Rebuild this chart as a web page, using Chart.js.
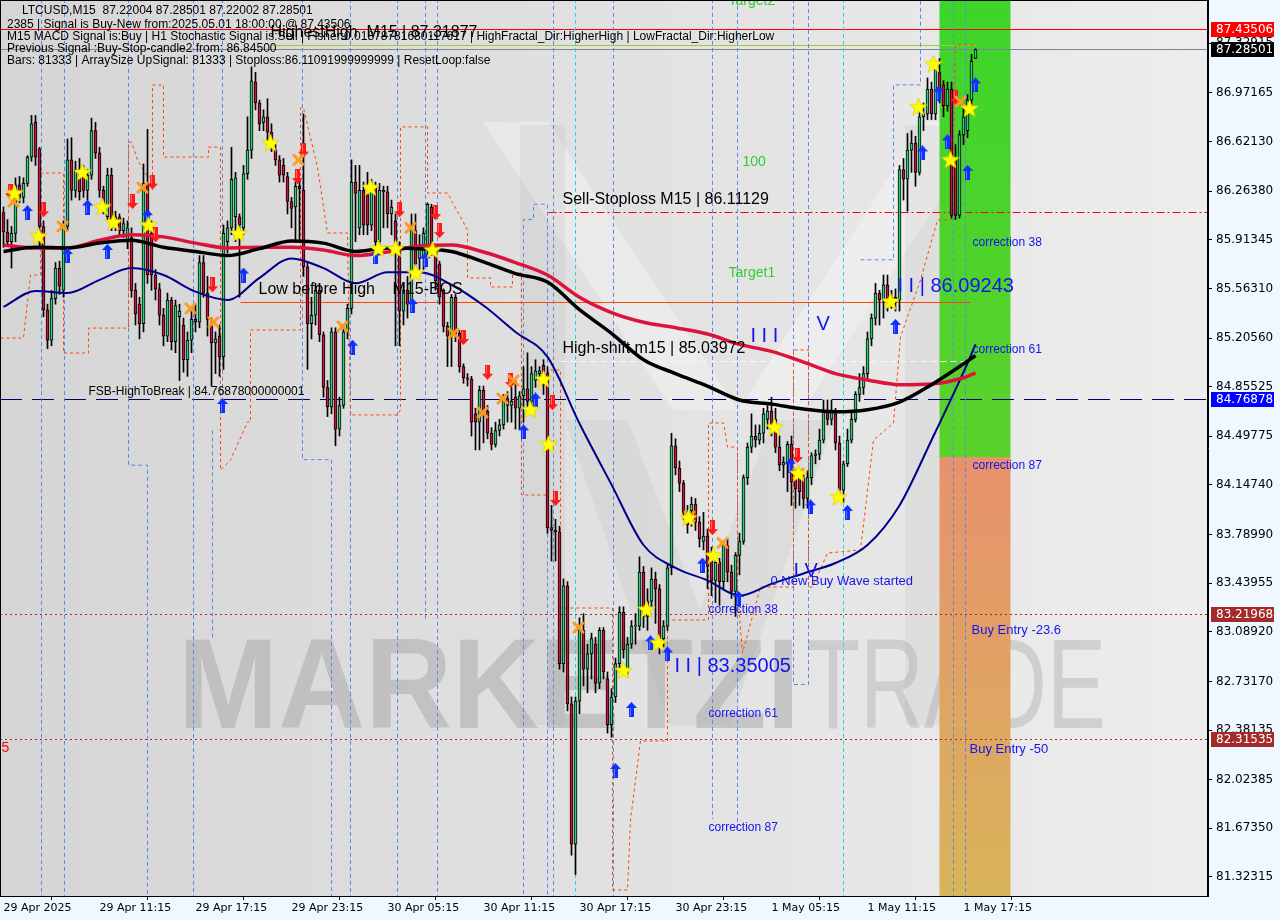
<!DOCTYPE html>
<html><head><meta charset="utf-8">
<script src="https://cdn.jsdelivr.net/npm/chart.js@4.4.1/dist/chart.umd.min.js"></script>
<style>html,body{margin:0;padding:0;background:#f0f8ff;}canvas{display:block;}</style>
</head><body>
<canvas id="c" width="1280" height="920"></canvas>
<script>
// ---------- DATA ----------
const xTickIdx = [0,24,48,72,96,120,144,168,192,216,240];
const xTickLabels = ['29 Apr 2025','29 Apr 11:15','29 Apr 17:15','29 Apr 23:15','30 Apr 05:15','30 Apr 11:15','30 Apr 17:15','30 Apr 23:15','1 May 05:15','1 May 11:15','1 May 17:15'];
const yTickValues = [87.32915,86.97165,86.62130,86.26380,85.91345,85.56310,85.20560,84.85525,84.49775,84.14740,83.78990,83.43955,83.08920,82.73170,82.38135,82.02385,81.67350,81.32315];

const opens = [86.11,85.97,85.90,85.96,86.31,86.22,86.32,86.51,86.76,86.57,
86.01,85.41,85.19,85.49,85.71,85.55,86.01,86.49,86.27,86.42,
86.39,86.27,86.38,86.70,86.54,86.27,86.08,86.38,86.03,86.08,
85.98,85.90,85.93,85.55,85.45,85.31,86.32,85.96,85.66,85.56,
85.37,85.22,85.48,85.18,85.36,85.30,85.05,85.19,85.34,85.32,
85.75,85.53,85.29,85.17,85.22,85.07,85.90,86.00,86.08,86.08,
86.00,86.39,86.56,87.05,86.90,86.76,86.80,86.69,86.56,86.49,
86.45,86.37,86.19,86.15,86.30,86.27,85.72,85.31,85.37,85.55,
85.23,84.85,84.71,85.25,84.55,84.72,85.25,85.42,86.33,86.00,
86.27,86.24,86.02,86.30,85.90,86.27,86.26,86.10,86.05,85.84,
85.40,85.55,85.45,85.98,85.78,85.78,85.86,86.15,85.86,85.74,
85.55,85.29,85.22,85.50,85.24,85.00,84.92,84.91,84.66,84.60,
84.83,84.68,84.52,84.44,84.54,84.58,84.77,84.72,84.78,84.70,
84.79,84.84,84.75,84.90,84.95,85.01,84.95,83.84,83.82,83.81,
82.86,83.42,82.57,81.56,82.59,83.10,82.82,82.93,83.00,82.72,
83.10,82.75,82.42,82.62,82.86,83.23,82.82,83.00,83.13,83.13,
83.52,83.20,83.31,83.47,83.40,83.04,83.13,83.55,84.43,84.27,
84.16,83.95,83.96,84.01,83.88,83.74,83.78,83.65,83.46,83.59,
83.45,83.71,83.52,83.38,83.64,83.74,84.20,84.42,84.50,84.47,
84.52,84.62,84.68,84.62,84.42,84.29,84.30,84.44,84.20,84.20,
84.20,84.05,84.20,84.36,84.37,84.47,84.68,84.62,84.66,84.45,
84.11,84.30,84.47,84.62,84.80,84.85,84.95,85.20,85.35,85.53,
85.48,85.59,85.48,85.50,85.48,86.42,86.35,86.56,86.61,86.40,
86.80,86.82,87.00,86.82,87.12,87.03,86.88,87.00,86.49,86.09,
86.67,86.70,86.92,87.22];
const highs = [86.15,86.06,86.01,86.36,86.37,86.36,86.52,86.81,86.81,86.58,
86.05,85.45,85.55,85.75,85.76,86.05,86.64,86.65,86.48,86.50,
86.45,86.42,86.79,86.76,86.58,86.30,86.43,86.43,86.12,86.10,
86.07,86.05,86.00,85.60,85.50,86.46,86.71,86.05,85.70,85.60,
85.42,85.53,85.50,85.48,85.45,85.35,85.25,85.42,85.45,85.80,
85.80,85.65,85.35,85.25,85.30,86.02,86.05,86.58,86.40,86.10,
86.45,86.80,87.16,87.12,86.92,86.85,86.93,86.75,86.60,86.52,
86.50,86.40,86.22,86.33,86.35,86.82,85.75,85.50,85.60,85.60,
85.25,84.90,85.28,85.28,84.78,85.30,85.45,86.49,86.45,86.45,
86.33,86.40,86.35,86.33,86.32,86.30,86.30,86.20,86.10,85.90,
85.60,85.65,86.10,86.10,85.95,86.00,86.18,86.17,85.88,85.76,
85.56,85.32,85.52,85.52,85.26,85.02,84.95,84.93,84.70,84.86,
84.86,84.72,84.56,84.60,84.62,84.80,84.82,84.85,84.90,84.82,
85.00,85.10,85.00,85.05,85.00,85.05,85.00,84.00,83.90,83.85,
83.47,83.45,82.62,82.62,83.19,83.22,83.00,83.08,83.05,83.12,
83.12,82.80,82.68,82.90,83.27,83.27,83.05,83.17,83.22,83.63,
83.56,83.40,83.55,83.52,83.43,83.17,83.57,84.52,84.48,84.32,
84.18,84.00,84.06,84.05,83.92,83.95,83.83,83.70,83.65,83.62,
83.74,83.76,83.57,83.66,83.80,84.22,84.45,84.66,84.58,84.58,
84.70,84.72,84.78,84.70,84.50,84.35,84.46,84.50,84.25,84.22,
84.22,84.25,84.38,84.40,84.55,84.76,84.76,84.76,84.70,84.50,
84.32,84.55,84.68,84.82,84.95,85.00,85.25,85.38,85.60,85.55,
85.66,85.66,85.55,85.56,86.45,86.50,86.68,86.70,86.66,86.86,
86.90,87.08,87.05,87.20,87.22,87.06,87.05,87.05,86.60,86.70,
86.90,86.96,87.25,87.29];
const lows = [85.86,85.87,85.71,85.90,86.18,86.18,86.30,86.48,86.45,85.87,
85.36,85.13,85.15,85.45,85.52,85.50,85.98,86.20,86.22,86.20,
86.22,86.20,86.35,86.50,86.22,86.10,86.05,85.98,85.98,85.95,
85.93,85.85,85.50,85.30,85.20,85.25,85.60,85.55,85.48,85.30,
85.15,85.18,85.12,85.10,84.90,84.96,84.93,85.10,85.25,85.28,
85.50,85.22,84.86,84.95,84.93,84.98,85.82,85.95,85.90,85.50,
85.95,86.35,86.50,86.85,86.70,86.70,86.60,86.55,86.45,86.33,
86.33,86.10,86.00,85.90,85.90,85.65,84.98,85.20,85.30,85.18,
84.78,84.64,84.66,84.43,84.50,84.70,85.20,85.38,85.90,85.95,
85.95,85.95,85.98,85.85,85.85,86.00,86.00,85.95,85.15,85.15,
85.30,85.35,85.40,85.70,85.70,85.70,85.80,85.80,85.55,85.45,
85.25,85.00,85.00,85.18,84.96,84.88,84.86,84.50,84.40,84.40,
84.45,84.48,84.40,84.42,84.50,84.55,84.60,84.60,84.55,84.55,
84.60,84.70,84.70,84.85,84.90,84.80,83.80,83.60,83.60,82.82,
82.80,82.52,81.48,81.34,82.50,82.70,82.65,82.75,82.65,82.68,
82.75,82.36,82.33,82.58,82.80,82.90,82.78,82.97,83.00,83.10,
83.12,83.10,83.25,83.15,82.93,82.98,83.10,83.50,84.22,84.10,
83.90,83.80,83.85,83.82,83.70,83.68,83.40,83.35,83.30,83.28,
83.40,83.45,83.33,83.20,83.50,83.72,84.15,84.38,84.42,84.44,
84.45,84.55,84.50,84.38,84.25,84.20,84.10,84.00,83.98,84.00,
83.98,83.98,84.15,84.30,84.33,84.45,84.58,84.58,84.40,84.06,
84.02,84.28,84.45,84.60,84.75,84.80,84.90,85.15,85.30,85.30,
85.35,85.40,85.42,85.40,85.40,86.20,86.12,86.40,86.30,86.38,
86.70,86.78,86.78,86.78,86.90,86.80,86.84,86.07,86.06,86.07,
86.60,86.65,86.88,87.22];
const closes = [85.97,85.90,85.96,86.31,86.22,86.32,86.51,86.75,86.51,86.01,
85.41,85.19,85.49,85.71,85.58,86.01,86.49,86.27,86.42,86.26,
86.27,86.38,86.70,86.54,86.27,86.15,86.38,86.03,86.08,85.98,
86.03,86.00,85.55,85.38,85.31,86.32,85.66,85.66,85.56,85.37,
85.22,85.48,85.18,85.44,85.40,85.05,85.19,85.34,85.32,85.75,
85.53,85.34,85.17,85.20,85.07,85.96,86.00,86.35,86.36,86.02,
86.39,86.56,87.06,86.90,86.75,86.80,86.69,86.63,86.49,86.38,
86.38,86.19,86.14,86.30,86.28,85.72,85.31,85.37,85.55,85.23,
84.85,84.71,85.25,84.55,84.72,85.25,85.42,86.33,86.25,86.27,
86.02,86.02,86.30,85.90,86.27,86.26,86.10,86.15,85.84,85.40,
85.55,85.45,85.98,85.74,85.86,85.96,86.17,85.86,85.62,85.50,
85.29,85.22,85.50,85.24,85.00,84.92,84.91,84.60,84.60,84.83,
84.68,84.52,84.44,84.54,84.58,84.77,84.72,84.75,84.70,84.79,
84.84,84.75,84.95,84.97,84.97,84.87,83.84,83.82,83.81,82.86,
83.42,82.57,81.56,82.59,83.10,82.82,82.93,83.04,82.72,83.10,
82.80,82.42,82.62,82.86,83.23,82.96,83.00,83.13,83.13,83.52,
83.20,83.31,83.47,83.40,83.04,83.13,83.55,84.43,84.27,84.16,
83.95,83.86,84.01,83.88,83.76,83.78,83.56,83.46,83.59,83.45,
83.71,83.52,83.38,83.64,83.74,84.20,84.42,84.50,84.47,84.52,
84.66,84.68,84.55,84.42,84.29,84.31,84.44,84.17,84.12,84.10,
84.05,84.20,84.36,84.37,84.47,84.67,84.62,84.68,84.45,84.11,
84.30,84.47,84.62,84.80,84.85,84.95,85.20,85.35,85.53,85.48,
85.59,85.48,85.50,85.48,86.42,86.35,86.56,86.61,86.40,86.80,
86.82,87.00,86.82,87.14,86.96,86.88,87.00,86.09,86.09,86.67,
86.80,86.92,87.20,87.285];

const maIdx = [0,8,16,24,32,40,48,56,64,72,80,88,96,104,112,120,128,136,144,152,160,168,176,184,192,200,208,216,224,232,240,243];
const maBlack = [85.83,85.86,85.855,85.89,85.91,85.86,85.83,85.80,85.85,85.905,85.89,85.83,85.855,85.85,85.83,85.755,85.67,85.61,85.41,85.24,85.05,84.95,84.86,84.76,84.73,84.695,84.675,84.69,84.745,84.87,85.02,85.08];
const maRed = [85.876,85.855,85.855,85.91,85.95,85.935,85.89,85.855,85.86,85.86,85.84,85.80,85.826,85.87,85.876,85.826,85.75,85.66,85.50,85.39,85.32,85.28,85.235,85.16,85.11,85.033,84.95,84.904,84.87,84.875,84.92,84.955];
const maNavy = [85.43,85.545,85.53,85.625,85.71,85.66,85.54,85.48,85.64,85.78,85.71,85.60,85.68,85.68,85.59,85.44,85.25,85.07,84.59,84.15,83.715,83.55,83.46,83.35,83.435,83.51,83.585,83.715,84.00,84.47,84.96,85.16];

// trailing stop line (orange dashed), vertices
const orangeX = [-0.75,5,6.75,9.25,9.25,15,15,21.25,21.25,31.25,31.25,32,33.5,36,37.25,37.25,40,40,51.25,51.25,54.25,54.25,56.75,61,61.75,61.75,74.25,74.25,75,78.5,81,86,86.75,98.5,99.25,99.25,106,106,111,116,116,121.75,121.75,127.25,127.25,129.5,129.5,136.25,136.25,139.25,139.25,152.25,152.25,156,156.75,159.25,166,166,176.25,176.25,180,181,183.5,183.5,184.75,189.25,197.5,197.5,201.25,201.25,202.25,206,214.25,217.5,222.5,224.25,229.25,233.5,237.25,238,243];
const orangeY = [85.206,85.206,85.660,85.660,86.395,86.395,85.098,85.098,85.278,85.278,86.618,86.618,86.489,86.366,86.366,87.029,87.029,86.510,86.510,86.582,86.582,84.255,84.327,84.601,84.601,85.264,85.264,86.863,86.863,86.438,85.963,85.963,84.652,84.652,84.688,86.727,86.727,86.251,86.251,85.985,85.639,85.639,85.574,85.574,85.675,85.675,84.075,84.075,84.976,84.976,83.261,83.261,81.229,81.229,81.734,82.303,82.303,83.175,83.175,84.594,84.594,84.421,84.421,83.369,82.937,83.412,83.412,85.120,85.120,83.412,83.412,83.657,83.679,84.471,84.594,85.214,85.624,86.057,86.057,87.317,87.317];

const bluePaths = [
 [[9.5,87.7],[9.5,81.1]], [[15.25,87.7],[15.25,81.1]],
 [[31.25,87.7],[31.25,84.29],[36,84.29],[36,81.1]], [[47.5,87.7],[47.5,81.1]],
 [[52.25,84.54],[52.25,83.03]], [[54.75,87.7],[54.75,84.76]],
 [[74.75,87.7],[74.75,84.33],[82,84.33],[82,81.1]], [[86.75,87.7],[86.75,81.1]],
 [[98.5,87.7],[98.5,81.1]], [[105.5,87.7],[105.5,83.17]], [[108.5,87.7],[108.5,81.1]],
 [[130,81.1],[130,86.06],[132.5,86.06],[132.5,86.17],[136,86.17],[136,81.1]],
 [[137.5,87.7],[137.5,81.1]], [[152.5,87.7],[152.5,81.1]],
 [[177.25,87.7],[177.25,81.74]], [[183.5,87.7],[183.5,81.66]],
 [[197.5,87.7],[197.5,82.71],[201.25,82.71],[201.25,87.7]],
 [[214.25,85.77],[222.5,85.77],[222.5,87.03],[229.25,87.03],[229.25,87.7]],
 [[237.5,87.7],[237.5,81.1]], [[240.5,87.7],[240.5,81.1]]
];
const cyanIdx = [143, 210];

const starX = [2.75,8.75,19.75,24.75,27.5,36.25,58.75,66.75,91.75,93.75,98,103,107.25,131.75,135,136.25,155,160.75,163.75,171.25,177.5,192.75,198.75,208.75,221.75,228.75,232.5,236.75,241.5];
const starY = [86.25,85.94,86.40,86.15,86.04,86.02,85.96,86.61,86.29,85.85,85.85,85.675,85.84,84.69,84.91,84.44,82.81,83.25,83.01,83.91,83.64,84.565,84.23,84.06,85.47,86.87,87.18,86.49,86.86];
const upX = [6,16,21,26,36,54.75,60,87.25,93,102.25,105.5,130,133,153,157,161.75,166,174.75,183.75,196.75,201.75,211,223,229.75,233.75,236,241,243];
const upY = [86.11,85.80,86.15,85.83,86.08,84.72,85.66,85.14,85.79,85.44,85.77,84.53,84.76,82.09,82.53,83.01,82.93,83.57,83.33,84.29,83.99,83.95,85.29,86.54,86.97,86.62,86.40,87.03];
const downX = [1.75,10,32.25,37.25,38,52.25,73.5,75,99,108,109,115,121,126.75,137.25,138,177.25,198.5,238];
const downY = [86.26,86.13,86.19,86.33,85.95,85.59,86.37,86.56,86.13,86.11,85.98,85.21,84.96,84.90,84.74,84.05,83.84,84.36,86.94];
const crossX = [2.5,14.75,34.75,46.75,52.5,73.75,84.75,101.75,112.5,119.75,124.75,127.5,143.75,171.5,179.75,198.75,239.25];
const crossY = [86.19,86.01,86.29,85.42,85.32,86.49,85.29,86.00,85.24,84.67,84.77,84.90,83.12,83.92,83.73,84.23,86.91];

const levelPrices = [87.43506, 87.28501, 87.31877, 86.11129, 85.466, 85.03972, 84.76878, 83.21968, 82.31535];
const levelFrom = [null, null, 66.75, 136.25, 59.25, 139.25, null, null, null];
const levelTo = [null, null, 243, null, 241.75, 241.75, null, null, null];

const zoneFrom = 234, zoneTo = 251.75, zoneSplit = 84.349;

const axisBoxes = [[87.43506,'#ff0000'],[87.28501,'#000000'],[84.76878,'#0000ff'],[83.21968,'#a52a2a'],[82.31535,'#a52a2a']];

// ---------- SCALE RANGE ----------
const X_MIN = -0.875, X_MAX = 301.125, Y_MIN = 81.186, Y_MAX = 87.6416;

// ---------- helpers ----------
function mk(w,h,fn){const c=document.createElement('canvas');c.width=w;c.height=h;fn(c.getContext('2d'));return c;}
const starImg = mk(19,19,g=>{g.beginPath();for(let k=0;k<10;k++){const r=k%2?3.9:9.2;const a=-Math.PI/2+k*Math.PI/5;g.lineTo(9.5+r*Math.cos(a),10+r*Math.sin(a));}g.closePath();g.fillStyle='#ffff00';g.fill();g.strokeStyle='#e0d000';g.lineWidth=0.8;g.stroke();});
function arrow(color,down){return mk(11,15,g=>{g.save();if(down){g.translate(0,15);g.scale(1,-1);}g.fillStyle=color;g.beginPath();g.moveTo(5.5,0);g.lineTo(11,6);g.lineTo(8,6);g.lineTo(8,15);g.lineTo(3,15);g.lineTo(3,6);g.lineTo(0,6);g.closePath();g.fill();g.fillStyle='rgba(255,255,255,0.35)';g.fillRect(4,6,1,8);g.restore();});}
const upImg = arrow('#1030ff',false), downImg = arrow('#ff1a1a',true);
const crossImg = mk(13,13,g=>{g.strokeStyle='#ff9a1a';g.lineWidth=3;g.lineCap='round';g.beginPath();g.moveTo(2,2);g.lineTo(11,11);g.moveTo(11,2);g.lineTo(2,11);g.stroke();});

const pts = (xs,ys)=>xs.map((x,k)=>({x,y:ys[k]}));

const datasets = [];
datasets.push({type:'line',data:pts(starX,starY),showLine:false,pointStyle:starImg,pointRadius:9,order:0});
datasets.push({type:'line',data:pts(crossX,crossY),showLine:false,pointStyle:crossImg,pointRadius:6,order:0});
datasets.push({type:'line',data:pts(upX,upY),showLine:false,pointStyle:upImg,pointRadius:7,order:0});
datasets.push({type:'line',data:pts(downX,downY),showLine:false,pointStyle:downImg,pointRadius:7,order:0});
datasets.push({type:'line',data:pts(maIdx,maBlack),borderColor:'#000000',borderWidth:3.5,pointRadius:0,cubicInterpolationMode:'monotone',order:1});
datasets.push({type:'line',data:pts(maIdx,maRed),borderColor:'#dc143c',borderWidth:3.5,pointRadius:0,cubicInterpolationMode:'monotone',order:1});
datasets.push({type:'line',data:pts(maIdx,maNavy),borderColor:'#00008b',borderWidth:2,pointRadius:0,cubicInterpolationMode:'monotone',order:1});
datasets.push({type:'bar',data:opens.map((o,i)=>({x:i,y:[o,closes[i]]})),backgroundColor:opens.map((o,i)=>closes[i]>=o?'#2ecf7a':'#c8143c'),borderColor:'#000',borderWidth:1,borderSkipped:false,barThickness:3,minBarLength:1,grouped:false,order:3});
datasets.push({type:'bar',data:opens.map((o,i)=>({x:i,y:[lows[i],highs[i]]})),backgroundColor:'#000',barThickness:1,grouped:false,order:4});
datasets.push({type:'line',data:pts(orangeX,orangeY),borderColor:'#ff4500',borderWidth:1,borderDash:[3,3],pointRadius:0,order:5});
bluePaths.forEach(p=>datasets.push({type:'line',data:p.map(([x,y])=>({x,y})),borderColor:'#5a8ae8',borderWidth:1,borderDash:[4,3],pointRadius:0,order:6}));
cyanIdx.forEach(c=>datasets.push({type:'line',data:[{x:c,y:87.7},{x:c,y:81.1}],borderColor:'#22d3e6',borderWidth:1,borderDash:[4,3],pointRadius:0,order:6}));

// ---------- plugins ----------
const bgPlugin = {
 id:'bg',
 beforeDraw(chart){
  const {ctx,chartArea:a} = chart, xs=chart.scales.x, ys=chart.scales.y;
  ctx.save();
  ctx.fillStyle='#f0f8ff'; ctx.fillRect(0,0,chart.width,chart.height);
  const g=ctx.createLinearGradient(a.left,0,a.right,0);
  g.addColorStop(0,'#d5d5d5'); g.addColorStop(1,'#ededed');
  ctx.fillStyle=g; ctx.fillRect(a.left,a.top,a.right-a.left,a.bottom-a.top);
  ctx.beginPath(); ctx.rect(a.left,a.top,a.right-a.left,a.bottom-a.top); ctx.clip();
  // faint logo
  ctx.fillStyle='rgba(255,255,255,0.30)';
  ctx.beginPath(); ctx.moveTo(483,122); ctx.lineTo(548,122); ctx.lineTo(738,410); ctx.lineTo(673,410); ctx.closePath(); ctx.fill();
  ctx.beginPath(); ctx.moveTo(990,122); ctx.lineTo(925,122); ctx.lineTo(738,410); ctx.lineTo(803,410); ctx.closePath(); ctx.fill();
  ctx.fillStyle='rgba(110,110,110,0.08)';
  ctx.fillRect(520,125,45,600); ctx.fillRect(905,125,45,600);
  ctx.beginPath(); ctx.moveTo(565,420); ctx.lineTo(628,420); ctx.lineTo(700,610); ctx.lineTo(772,420); ctx.lineTo(835,420); ctx.lineTo(730,725); ctx.lineTo(670,725); ctx.closePath(); ctx.fill();
  // watermark
  ctx.textBaseline='alphabetic';
  ctx.fillStyle='rgba(165,165,165,0.5)'; ctx.font='bold 128px "Liberation Sans"'; ctx.fillText('MARKETZI',178,728,622);
  ctx.fillStyle='rgba(175,175,175,0.45)'; ctx.font='128px "Liberation Sans"'; ctx.fillText('TRADE',806,728,300);
  // zone
  const zx0=xs.getPixelForValue(zoneFrom), zx1=xs.getPixelForValue(zoneTo);
  const zs=ys.getPixelForValue(zoneSplit);
  const gg=ctx.createLinearGradient(0,a.top,0,zs); gg.addColorStop(0,'#3dd52a'); gg.addColorStop(1,'#5bd22c');
  ctx.fillStyle=gg; ctx.fillRect(zx0,a.top,zx1-zx0,zs-a.top);
  const go=ctx.createLinearGradient(0,zs,0,a.bottom); go.addColorStop(0,'#e8916c'); go.addColorStop(1,'#d8b45a');
  ctx.fillStyle=go; ctx.fillRect(zx0,zs,zx1-zx0,a.bottom-zs);
  ctx.restore();
 },
 beforeDatasetsDraw(chart){
  const {ctx,chartArea:a}=chart, xs=chart.scales.x, ys=chart.scales.y;
  const styles=[['#ff0000',[],1],['#778899',[],1],['#9acd32',[],1],['#ff0000',[8,3,2,3],1],['#ff4500',[],1],['#f8f8f8',[6,4],1],['#000066',[22,10],1],['#a52a2a',[2,3],1],['#a52a2a',[2,3],1]];
  ctx.save(); ctx.beginPath(); ctx.rect(a.left,a.top,a.right-a.left,a.bottom-a.top); ctx.clip();
  levelPrices.forEach((p,k)=>{
   const y=Math.round(ys.getPixelForValue(p))+0.5;
   const x0=levelFrom[k]===null?a.left:xs.getPixelForValue(levelFrom[k]);
   const x1=levelTo[k]===null?a.right:xs.getPixelForValue(levelTo[k]);
   ctx.strokeStyle=styles[k][0]; ctx.setLineDash(styles[k][1]); ctx.lineWidth=styles[k][2];
   ctx.beginPath(); ctx.moveTo(x0,y); ctx.lineTo(x1,y); ctx.stroke();
  });
  ctx.restore();
 },
 afterDatasetsDraw(chart){
  const {ctx,chartArea:a}=chart, xs=chart.scales.x, ys=chart.scales.y;
  ctx.save(); ctx.beginPath(); ctx.rect(a.left,a.top,a.right-a.left,a.bottom-a.top); ctx.clip();
  ctx.textBaseline='middle'; ctx.textAlign='left';
  const B='#1414ee';
  const notes=[
   ['Sell-Stoploss M15 | 86.11129',139.75,86.20,'16px "Liberation Sans"','#000'],
   ['Low before High',63.75,85.552,'16px "Liberation Sans"','#000'],
   ['M15-BOS',97.25,85.552,'16px "Liberation Sans"','#000'],
   ['High-shift m15 | 85.03972',139.75,85.127,'16px "Liberation Sans"','#000'],
   ['FSB-HighToBreak | 84.76878000000001',21.25,84.817,'12px "Liberation Sans"','#000'],
   ['HighestHigh  M15 | 87.31877',66.75,87.405,'16px "Liberation Sans"','#000'],
   ['Target1',181.25,85.675,'14px "Liberation Sans"','#32cd32'],
   ['100',184.75,86.474,'14px "Liberation Sans"','#32cd32'],
   ['Target2',181.25,87.63,'14px "Liberation Sans"','#32cd32'],
   ['correction 38',242.25,85.891,'12px "Liberation Sans"',B],
   ['correction 61',242.25,85.12,'12px "Liberation Sans"',B],
   ['correction 87',242.25,84.284,'12px "Liberation Sans"',B],
   ['Buy Entry -23.6',242,83.103,'13px "Liberation Sans"',B],
   ['Buy Entry -50',241.5,82.245,'13px "Liberation Sans"',B],
   ['correction 38',176.25,83.247,'12px "Liberation Sans"',B],
   ['correction 61',176.25,82.498,'12px "Liberation Sans"',B],
   ['correction 87',176.25,81.676,'12px "Liberation Sans"',B],
   ['I I | 83.35005',167.75,82.84,'20px "Liberation Sans"',B],
   ['I I | 86.09243',223.5,85.581,'20px "Liberation Sans"',B],
   ['I I I',186.75,85.214,'20px "Liberation Sans"',B],
   ['V',203.25,85.307,'20px "Liberation Sans"',B],
   ['I V',197.5,83.521,'20px "Liberation Sans"',B],
   ['0 New Buy Wave started',191.75,83.456,'13px "Liberation Sans"',B],
   ['5',-0.5,82.25,'14px "Liberation Sans"','#ff0000']
  ];
  notes.forEach(([t,x,p,f,c])=>{ctx.font=f;ctx.fillStyle=c;ctx.fillText(t,xs.getPixelForValue(x),ys.getPixelForValue(p));});
  // info lines
  ctx.font='12px "Liberation Sans"'; ctx.fillStyle='#000';
  ctx.fillText('LTCUSD,M15  87.22004 87.28501 87.22002 87.28501',22,11);
  ctx.fillText('2385 | Signal is Buy-New from:2025.05.01 18:00:00 @ 87.43506',7,25);
  ctx.fillText('M15 MACD Signal is:Buy | H1 Stochastic Signal is:Sell | Fisher:0.01878781680117617 | HighFractal_Dir:HigherHigh | LowFractal_Dir:HigherLow',7,37);
  ctx.fillText('Previous Signal :Buy-Stop-candle2 from: 86.84500',7,49);
  ctx.fillText('Bars: 81333 | ArraySize UpSignal: 81333 | Stoploss:86.11091999999999 | ResetLoop:false',7,61);
  ctx.restore();
 },
 afterDraw(chart){
  const {ctx,chartArea:a}=chart, ys=chart.scales.y;
  ctx.save();
  ctx.strokeStyle='#000'; ctx.lineWidth=1;
  ctx.strokeRect(a.left+0.5,a.top+0.5,a.right-a.left-1,a.bottom-a.top);
  ctx.font='12px "DejaVu Sans"'; ctx.textBaseline='middle'; ctx.textAlign='left';
  axisBoxes.forEach(([p,c])=>{
   const y=Math.round(ys.getPixelForValue(p));
   ctx.fillStyle=c; ctx.fillRect(a.right+3,y-7,63,15);
   ctx.fillStyle='#fff'; ctx.fillText(p.toFixed(5),a.right+8,y+0.5);
  });
  ctx.restore();
 }
};

new Chart(document.getElementById('c'),{
 type:'bar',
 data:{datasets},
 options:{
  responsive:false, animation:false, devicePixelRatio:1,
  layout:{padding:0, autoPadding:false},
  plugins:{legend:{display:false},tooltip:{enabled:false}},
  scales:{
   x:{type:'linear',min:X_MIN,max:X_MAX,offset:false,
      grid:{display:true,drawOnChartArea:false,drawTicks:true,tickLength:4,color:'#000'},
      border:{display:true,color:'#000'},
      afterBuildTicks:s=>{s.ticks=xTickIdx.map(v=>({value:v}));},
      afterFit:s=>{s.height=24;s.paddingLeft=0;s.paddingRight=0;},
      ticks:{autoSkip:false,maxRotation:0,align:'start',padding:2,color:'#000',font:{family:'DejaVu Sans',size:11},
        callback:(v)=>{const k=xTickIdx.indexOf(v);return k>=0?xTickLabels[k]:'';}}},
   y:{type:'linear',position:'right',min:Y_MIN,max:Y_MAX,
      grid:{display:true,drawOnChartArea:false,drawTicks:true,tickLength:4,color:'#000'},
      border:{display:true,color:'#000'},
      afterBuildTicks:s=>{s.ticks=yTickValues.map(v=>({value:v}));},
      afterFit:s=>{s.width=72;s.paddingTop=0;s.paddingBottom=0;},
      ticks:{autoSkip:false,padding:4,color:'#000',font:{family:'DejaVu Sans',size:12},callback:v=>Number(v).toFixed(5)}}
  }
 },
 plugins:[bgPlugin]
});
</script>
</body></html>
